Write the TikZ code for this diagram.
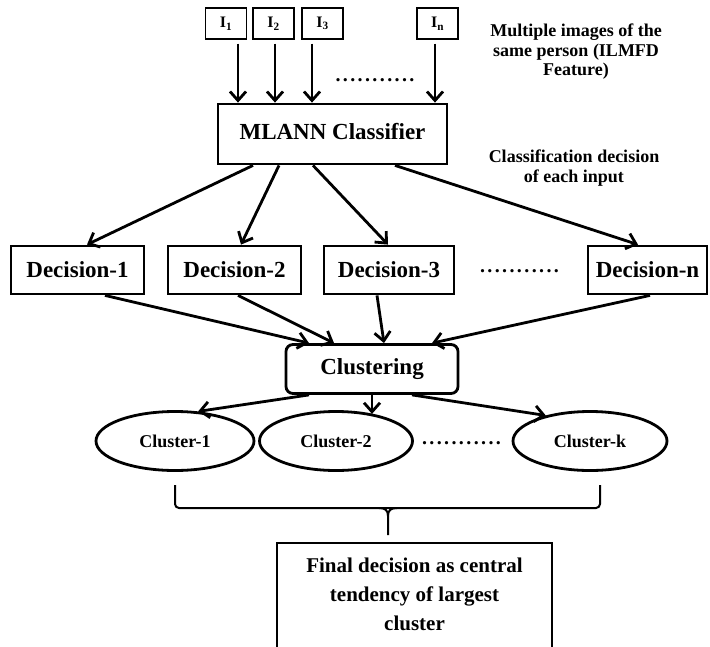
\documentclass[tikz,border=0pt]{standalone}
\usepackage{fontspec}
\setmainfont{Liberation Serif}
\usetikzlibrary{arrows.meta,shapes.geometric,calc}
\newcommand\dotrow{.\kern2.4pt.\kern2.4pt.\kern2.4pt.\kern2.4pt.\kern2.4pt.\kern2.4pt.\kern2.4pt.\kern2.4pt.\kern2.4pt.\kern2.4pt.}
\begin{document}
\begin{tikzpicture}[x=1pt,y=-1pt,
  box/.style={draw,line width=2.8pt,inner sep=0pt,font=\fontsize{23}{26}\selectfont\bfseries},
  ibox/.style={draw,line width=1.2pt,inner sep=0pt,minimum width=41pt,minimum height=31pt,font=\fontsize{16}{18}\selectfont\bfseries},
  ell/.style={draw,ellipse,line width=2.8pt,inner sep=0pt,minimum height=59pt,font=\fontsize{18}{20}\selectfont\bfseries},
  arr/.style={line width=2.8pt,-{Straight Barb[length=9pt,width=16pt,line width=2.8pt]}},
  note/.style={align=center,font=\fontsize{18}{19.5}\selectfont\bfseries},
  dots/.style={inner sep=0pt,anchor=base,font=\fontsize{20}{20}\selectfont\bfseries},
  brace/.style={line width=2pt}]
\useasboundingbox (0,0) rectangle (710,646);
% inputs
\node[ibox] (i1) at (226,23.5) {I\textsubscript{1}};
\node[ibox] (i2) at (273.5,23.5) {I\textsubscript{2}};
\node[ibox] (i3) at (322.5,23.5) {I\textsubscript{3}};
\node[ibox] (in) at (437.5,23.5) {I\textsubscript{n}};
\node[dots] (idots) at (375,81) {\dotrow};
\node[note] (note1) at (576,52) {Multiple images of the\\same person (ILMFD\\Feature)};
% classifier
\node[box,minimum width=229pt,minimum height=60pt] (mlann) at (332.5,134) {\raisebox{6pt}{MLANN Classifier}};
\node[note,font=\fontsize{18}{20}\selectfont\bfseries] (note2) at (574,168) {Classification decision\\of each input};
% decisions
\node[box,minimum width=133pt,minimum height=48pt] (d1) at (77.5,270) {Decision-1};
\node[box,minimum width=133pt,minimum height=48pt] (d2) at (234.5,270) {Decision-2};
\node[box,minimum width=130pt,minimum height=48pt] (d3) at (389,270) {Decision-3};
\node[box,minimum width=119pt,minimum height=48pt] (dn) at (647.5,270) {Decision-n};
\node[dots] (ddots) at (519.5,272) {\dotrow};
% clustering
\node[box,rounded corners=7pt,minimum width=172pt,minimum height=49pt] (clu) at (372,369) {Clustering};
% clusters
\node[ell,minimum width=158pt] (c1) at (175,441) {Cluster-1};
\node[ell,minimum width=153pt] (c2) at (336,441) {Cluster-2};
\node[ell,minimum width=154pt] (ck) at (590,441) {Cluster-k};
\node[dots] (cdots) at (461.5,444) {\dotrow};
% final
\node[box,minimum width=275pt,minimum height=106pt,font=\fontsize{21}{29}\selectfont\bfseries] (final) at (414.5,596) {\raisebox{3pt}{\begin{tabular}{@{}c@{}}Final decision as central\\tendency of largest\\cluster\end{tabular}}};
% input arrows
\draw[arr,shorten <=4pt] ([xshift=12pt]i1.south) -- ([xshift=12pt]i1.south |- mlann.north);
\draw[arr,shorten <=4pt] ([xshift=1.5pt]i2.south) -- ([xshift=1.5pt]i2.south |- mlann.north);
\draw[arr,shorten <=4pt] ([xshift=-10.5pt]i3.south) -- ([xshift=-10.5pt]i3.south |- mlann.north);
\draw[arr,shorten <=4pt] ([xshift=-2.5pt]in.south) -- ([xshift=-2.5pt]in.south |- mlann.north);
% classifier to decisions
\draw[arr] ([xshift=-79.5pt]mlann.south) -- ([xshift=9.5pt]d1.north);
\draw[arr] ([xshift=-53.5pt]mlann.south) -- ([xshift=6.5pt]d2.north);
\draw[arr] ([xshift=-19.5pt]mlann.south) -- ([xshift=-1pt]d3.north);
\draw[arr] ([xshift=62.5pt]mlann.south) -- ([xshift=-9.5pt]dn.north);
% decisions to clustering
\draw[arr] ([xshift=27.5pt]d1.south) -- ([xshift=-63pt]clu.north);
\draw[arr] ([xshift=3.5pt]d2.south) -- ([xshift=-38pt]clu.north);
\draw[arr] ([xshift=-12pt]d3.south) -- ([xshift=12pt]clu.north);
\draw[arr] ([xshift=2.5pt]dn.south) -- ([xshift=60pt]clu.north);
% clustering to clusters
\draw[arr] ([xshift=-63pt]clu.south) -- (c1.52);
\draw[arr] (clu.south) -- (clu.south |- c2.36);
\draw[arr] ([xshift=40pt]clu.south) -- (ck.150);
% brace
\coordinate (bl) at (175,485);
\coordinate (br) at (600,485);
\coordinate (bt) at (388,535);
\draw[brace,rounded corners=4pt] (bl) -- (175,508) -- (600,508) -- (br);
\draw[brace] (379,508) .. controls (385,508) and (388,510) .. (388,516) -- (bt);
\draw[brace] (397,508) .. controls (391,508) and (388,510) .. (388,516);
\end{tikzpicture}
\end{document}
